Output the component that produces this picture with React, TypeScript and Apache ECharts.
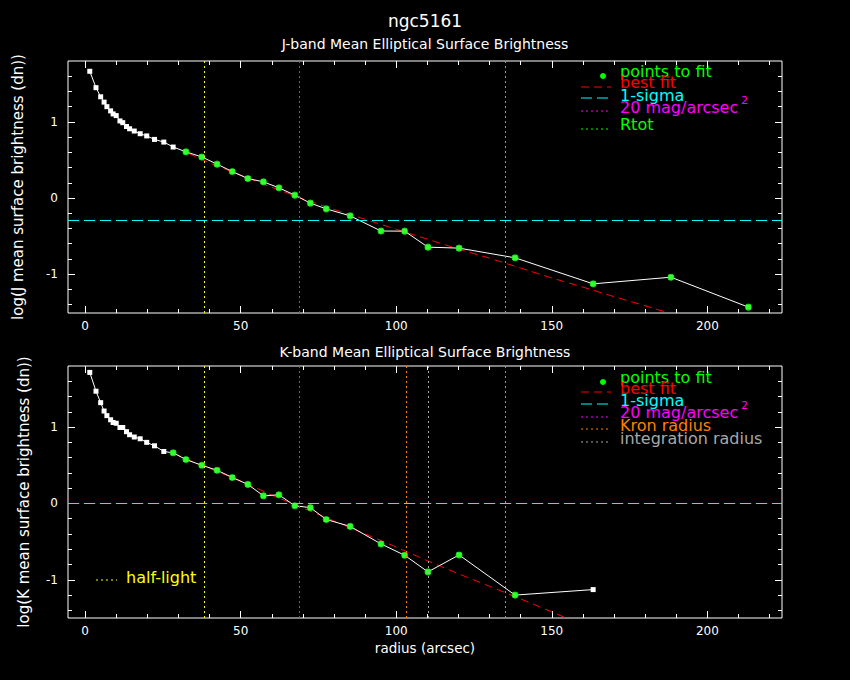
import { useEffect, useRef } from 'react'
import * as echarts from 'echarts'

// radii of the elliptical annuli (arcsec)
const RADIUS = [1.5, 3.5, 5.0, 6.1, 7.0, 8.2, 9.0, 10.0, 11.2, 12.1, 13.3, 14.3, 15.8, 17.7, 19.8, 22.3, 25.3, 28.3,
  32.4, 37.5, 42.4, 47.3, 52.3, 57.3, 62.3, 67.4, 72.4, 77.5, 85.2, 95.1, 102.7, 110.2, 120.2, 138.2, 163.3, 188.3, 213.2]

// log mean surface brightness (dn)
const J_MU = [1.665, 1.45, 1.33, 1.26, 1.2, 1.145, 1.105, 1.083, 1.013, 0.99, 0.94, 0.91, 0.88, 0.845, 0.816, 0.77, 0.735, 0.67,
  0.607, 0.54, 0.445, 0.348, 0.256, 0.213, 0.134, 0.038, -0.067, -0.142, -0.234, -0.433, -0.435, -0.645, -0.658, -0.785, -1.127, -1.04, -1.433]
const K_MU = [1.716, 1.47, 1.32, 1.21, 1.15, 1.096, 1.06, 1.05, 0.995, 0.995, 0.94, 0.9, 0.87, 0.847, 0.8, 0.755, 0.68, 0.663,
  0.575, 0.5, 0.435, 0.34, 0.25, 0.1, 0.113, -0.03, -0.055, -0.21, -0.3, -0.53, -0.678, -0.896, -0.674, -1.2, -1.128]

// radius range of the points used in each fit
const J_FIT_RANGE = [30, 220]
const K_FIT_RANGE = [27, 140]

// best fit curves
const J_FIT_R = [33, 40, 50, 60, 70, 80, 90, 100, 110, 120, 130, 140, 150, 160, 170, 180, 187.6]
const J_FIT_MU = [0.59, 0.46, 0.3, 0.14, -0.01, -0.15, -0.28, -0.41, -0.54, -0.67, -0.79, -0.92, -1.05, -1.17, -1.295, -1.415, -1.51]
const K_FIT_R = [28.4, 35, 40, 50, 60, 70, 80, 90, 100, 110, 120, 130, 140, 150, 154.6]
const K_FIT_MU = [0.66, 0.54, 0.46, 0.295, 0.11, -0.06, -0.23, -0.4, -0.57, -0.75, -0.92, -1.085, -1.25, -1.42, -1.5]

// reference radii / levels
const HALF_LIGHT_R = 38.3
const MU20_R = 68.9
const J_RTOT = 135.1
const K_KRON_R = 103.3
const K_INT_R = 110.3
const K_RTOT = 135.1
const J_SIGMA = -0.29
const K_SIGMA = 0

// axes
const X_RANGE = [-5.5, 224]
const J_Y_RANGE = [-1.51, 1.8]
const K_Y_RANGE = [-1.5, 1.8]
const X_MAJOR = [0, 50, 100, 150, 200]
const X_MINOR = [10, 20, 30, 40, 60, 70, 80, 90, 110, 120, 130, 140, 160, 170, 180, 190, 210, 220]
const Y_MAJOR = [-1, 0, 1]
const Y_MINOR = [-1.4, -1.2, -0.8, -0.6, -0.4, -0.2, 0.2, 0.4, 0.6, 0.8, 1.2, 1.4, 1.6]

const FONT = "'DejaVu Sans', sans-serif"
const WHITE = '#ffffff'
const GREEN = '#00ff00'
const RED = '#ff0000'
const CYAN = '#00ffff'
const MAGENTA = '#ff00ff'
const YELLOW = '#ffff00'
const ORANGE = '#ff8000'
const GREY = '#a8a8a8'

const DOTTED = [2, 3]
const DASHED = [11, 5]
const FIT_DASH = [8, 5]

const tickLine = { color: WHITE, width: 1 }

function xAxes(grid: number, name?: string) {
  const base = {
    type: 'value', gridIndex: grid, min: X_RANGE[0], max: X_RANGE[1],
    splitLine: { show: false }, axisLine: { show: false, onZero: false },
  }
  return [
    {
      ...base, position: 'bottom',
      axisTick: { inside: true, length: 7, customValues: X_MAJOR, lineStyle: tickLine },
      axisLabel: { customValues: X_MAJOR, color: WHITE, fontSize: 12, fontFamily: FONT, margin: 7 },
      name, nameLocation: 'middle', nameGap: 23,
      nameTextStyle: { color: WHITE, fontSize: 13.5, fontFamily: FONT },
    },
    { ...base, position: 'bottom', axisTick: { inside: true, length: 4, customValues: X_MINOR, lineStyle: tickLine }, axisLabel: { show: false } },
    { ...base, position: 'top', axisTick: { inside: true, length: 7, customValues: X_MAJOR, lineStyle: tickLine }, axisLabel: { show: false } },
    { ...base, position: 'top', axisTick: { inside: true, length: 4, customValues: X_MINOR, lineStyle: tickLine }, axisLabel: { show: false } },
  ]
}

function yAxes(grid: number, range: number[], name: string, gap: number) {
  const base = {
    type: 'value', gridIndex: grid, min: range[0], max: range[1],
    splitLine: { show: false }, axisLine: { show: false, onZero: false },
  }
  return [
    {
      ...base, position: 'left',
      axisTick: { inside: true, length: 7, customValues: Y_MAJOR, lineStyle: tickLine },
      axisLabel: { customValues: Y_MAJOR, color: WHITE, fontSize: 12, fontFamily: FONT, margin: 10 },
      name, nameLocation: 'middle', nameGap: gap,
      nameTextStyle: { color: WHITE, fontSize: 15, fontFamily: FONT },
    },
    { ...base, position: 'left', axisTick: { inside: true, length: 4, customValues: Y_MINOR, lineStyle: tickLine }, axisLabel: { show: false } },
    { ...base, position: 'right', axisTick: { inside: true, length: 7, customValues: Y_MAJOR, lineStyle: tickLine }, axisLabel: { show: false } },
    { ...base, position: 'right', axisTick: { inside: true, length: 4, customValues: Y_MINOR, lineStyle: tickLine }, axisLabel: { show: false } },
  ]
}

function vLine(x: number, color: string) {
  return { xAxis: x, lineStyle: { color, type: DOTTED, width: 1 } }
}

function panelSeries(axis: number, mu: number[], fitRange: number[], fitR: number[], fitMu: number[], marks: any[]) {
  const profile = mu.map((v, i) => [RADIUS[i], v])
  const fitPts = profile.filter(p => p[0] >= fitRange[0] && p[0] <= fitRange[1])
  return [
    {
      type: 'line', xAxisIndex: axis, yAxisIndex: axis, data: profile,
      lineStyle: { color: WHITE, width: 1 }, symbol: 'rect', symbolSize: 5,
      itemStyle: { color: WHITE }, z: 3,
    },
    {
      type: 'line', xAxisIndex: axis, yAxisIndex: axis, data: fitR.map((r, i) => [r, fitMu[i]]),
      lineStyle: { color: RED, width: 1, type: FIT_DASH }, symbol: 'none', z: 2,
      markLine: {
        silent: true, symbol: ['none', 'none'], label: { show: false }, animation: false,
        data: marks,
      },
    },
    {
      type: 'scatter', xAxisIndex: axis, yAxisIndex: axis, data: fitPts,
      symbol: 'circle', symbolSize: 7, itemStyle: { color: GREEN }, z: 4,
    },
  ]
}

function text(x: number, y: number, t: string, color: string, size = 16) {
  return {
    type: 'text', x, y, silent: true,
    style: { text: t, fill: color, font: `${size}px ${FONT}`, textVerticalAlign: 'middle', verticalAlign: 'middle' },
  }
}

function sample(y: number, color: string, dash: number[], x1 = 581, x2 = 611) {
  return { type: 'line', silent: true, shape: { x1, y1: y, x2, y2: y }, style: { stroke: color, lineWidth: 1, lineDash: dash } }
}

const App = () => {
  const chartRef = useRef<HTMLDivElement>(null)

  useEffect(() => {
    if (!chartRef.current) return
    const chart = echarts.init(chartRef.current, undefined, { renderer: 'svg' })

    chart.setOption({
      animation: false,
      backgroundColor: '#000000',
      title: [
        { text: 'ngc5161', left: 'center', top: 12, padding: 0, textStyle: { color: WHITE, fontSize: 17, fontWeight: 'normal', fontFamily: FONT } },
        { text: 'J-band Mean Elliptical Surface Brightness', left: 'center', top: 37, padding: 0, textStyle: { color: WHITE, fontSize: 14, fontWeight: 'normal', fontFamily: FONT } },
        { text: 'K-band Mean Elliptical Surface Brightness', left: 'center', top: 345, padding: 0, textStyle: { color: WHITE, fontSize: 14, fontWeight: 'normal', fontFamily: FONT } },
      ],
      grid: [
        { left: 68, top: 61, width: 714, height: 252, show: true, borderColor: WHITE, borderWidth: 1, backgroundColor: 'transparent' },
        { left: 68, top: 366, width: 714, height: 252, show: true, borderColor: WHITE, borderWidth: 1, backgroundColor: 'transparent' },
      ],
      xAxis: [...xAxes(0), ...xAxes(1, 'radius (arcsec)')],
      yAxis: [
        ...yAxes(0, J_Y_RANGE, 'log(J mean surface brightness (dn))', 43),
        ...yAxes(1, K_Y_RANGE, 'log(K mean surface brightness (dn))', 37),
      ],
      series: [
        ...panelSeries(0, J_MU, J_FIT_RANGE, J_FIT_R, J_FIT_MU, [
          vLine(HALF_LIGHT_R, YELLOW), vLine(MU20_R, MAGENTA), vLine(J_RTOT, GREEN),
          { yAxis: J_SIGMA, lineStyle: { color: CYAN, type: DASHED, width: 1 } },
        ]),
        ...panelSeries(4, K_MU, K_FIT_RANGE, K_FIT_R, K_FIT_MU, [
          vLine(HALF_LIGHT_R, YELLOW), vLine(MU20_R, MAGENTA), vLine(K_KRON_R, ORANGE),
          vLine(K_INT_R, GREY), vLine(K_RTOT, GREEN),
          { yAxis: K_SIGMA, lineStyle: { color: CYAN, type: DASHED, width: 1 } },
        ]),
      ],
      graphic: [
        // J legend
        { type: 'circle', silent: true, shape: { cx: 603, cy: 76, r: 3 }, style: { fill: GREEN } },
        text(620, 71, 'points to fit', GREEN),
        sample(87, RED, FIT_DASH), text(620, 82, 'best fit', RED),
        sample(98, CYAN, DASHED), text(620, 95, '1-sigma', CYAN),
        sample(111, MAGENTA, DOTTED), text(620, 107, '20 mag/arcsec', MAGENTA), text(741, 100, '2', MAGENTA, 11),
        sample(129, GREEN, DOTTED), text(620, 124, 'Rtot', GREEN),
        // K legend
        { type: 'circle', silent: true, shape: { cx: 603, cy: 382, r: 3 }, style: { fill: GREEN } },
        text(620, 377, 'points to fit', GREEN),
        sample(392, RED, FIT_DASH), text(620, 388, 'best fit', RED),
        sample(404, CYAN, DASHED), text(620, 400, '1-sigma', CYAN),
        sample(417, MAGENTA, DOTTED), text(620, 412, '20 mag/arcsec', MAGENTA), text(741, 405, '2', MAGENTA, 11),
        sample(429, ORANGE, DOTTED), text(620, 425, 'Kron radius', ORANGE),
        sample(442, GREY, DOTTED), text(620, 438, 'integration radius', GREY),
        // half-light
        sample(580, YELLOW, DOTTED, 96, 117), text(126, 577, 'half-light', YELLOW),
      ],
    })

    return () => {
      chart.dispose()
    }
  }, [])

  return <div ref={chartRef} style={{ position: 'fixed', left: 0, top: 0, width: 850, height: 680, background: '#000' }} />
}

export default App
